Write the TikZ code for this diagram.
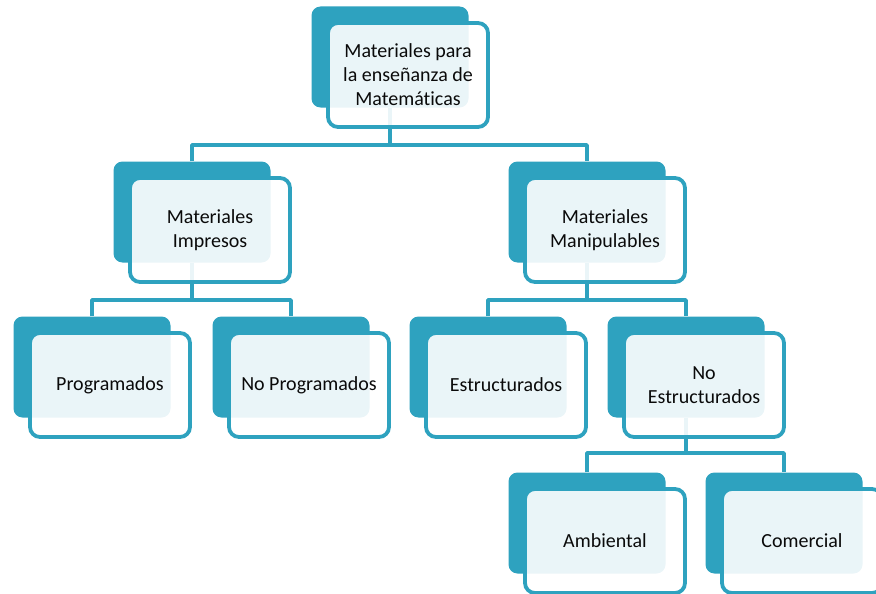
\documentclass[tikz,border=0pt]{standalone}
\usepackage{fontspec}
\setmainfont{Carlito}[Ligatures={NoCommon}]
\definecolor{tealA}{RGB}{46,162,191}
\definecolor{txt}{RGB}{10,10,10}
\begin{document}
\begin{tikzpicture}[x=1pt,y=-1pt,
  darkbox/.style={fill=tealA, rounded corners=9pt, minimum width=157pt, minimum height=101pt, inner sep=0pt},
  frontbox/.style={draw=tealA, line width=3.8pt, fill=white, fill opacity=0.9, draw opacity=1, text opacity=1,
    rounded corners=10pt, minimum width=160pt, minimum height=104pt, inner sep=0pt, align=center,
    text=txt, font=\fontsize{20}{24}\selectfont},
  conn/.style={draw=tealA, line width=3.8pt, line join=round}]
\useasboundingbox (0,0) rectangle (876,594);
\clip (0,0) rectangle (876,594);
% back (dark) boxes
\node[darkbox] (top) at (390,57) {};
\node[darkbox] (imp) at (192,212) {};
\node[darkbox] (man) at (587,212) {};
\node[darkbox] (prog) at (92,367) {};
\node[darkbox] (noprog) at (291,367) {};
\node[darkbox] (est) at (488,367) {};
\node[darkbox] (noest) at (686,367) {};
\node[darkbox] (amb) at (587,523) {};
\node[darkbox] (com) at (784,523) {};
% connectors
\draw[conn] (top.south) -- (top.south |- 0,145);
\draw[conn] (imp.north) |- (man.north |- 0,145) -- (man.north);
\draw[conn] (imp.south) -- (imp.south |- 0,300);
\draw[conn] (prog.north) |- (noprog.north |- 0,300) -- (noprog.north);
\draw[conn] (man.south) -- (man.south |- 0,300);
\draw[conn] (est.north) |- (noest.north |- 0,300) -- (noest.north);
\draw[conn] (noest.south) -- (noest.south |- 0,453);
\draw[conn] (amb.north) |- (com.north |- 0,453) -- (com.north);
% front boxes with text
\node[frontbox] (topF) at (408,75) {Materiales para\\la enseñanza de\\Matemáticas};
\node[frontbox] (impF) at (210,230) {Materiales\\Impresos};
\node[frontbox] (manF) at (605,230) {Materiales\\Manipulables};
\node[frontbox] (progF) at (110,385) {Programados};
\node[frontbox] (noprogF) at (309,385) {No Programados};
\node[frontbox] (estF) at (506,385) {Estructurados};
\node[frontbox] (noestF) at (704,385) {No\\Estructurados};
\node[frontbox] (ambF) at (605,541) {Ambiental};
\node[frontbox] (comF) at (802,541) {Comercial};
\end{tikzpicture}
\end{document}
